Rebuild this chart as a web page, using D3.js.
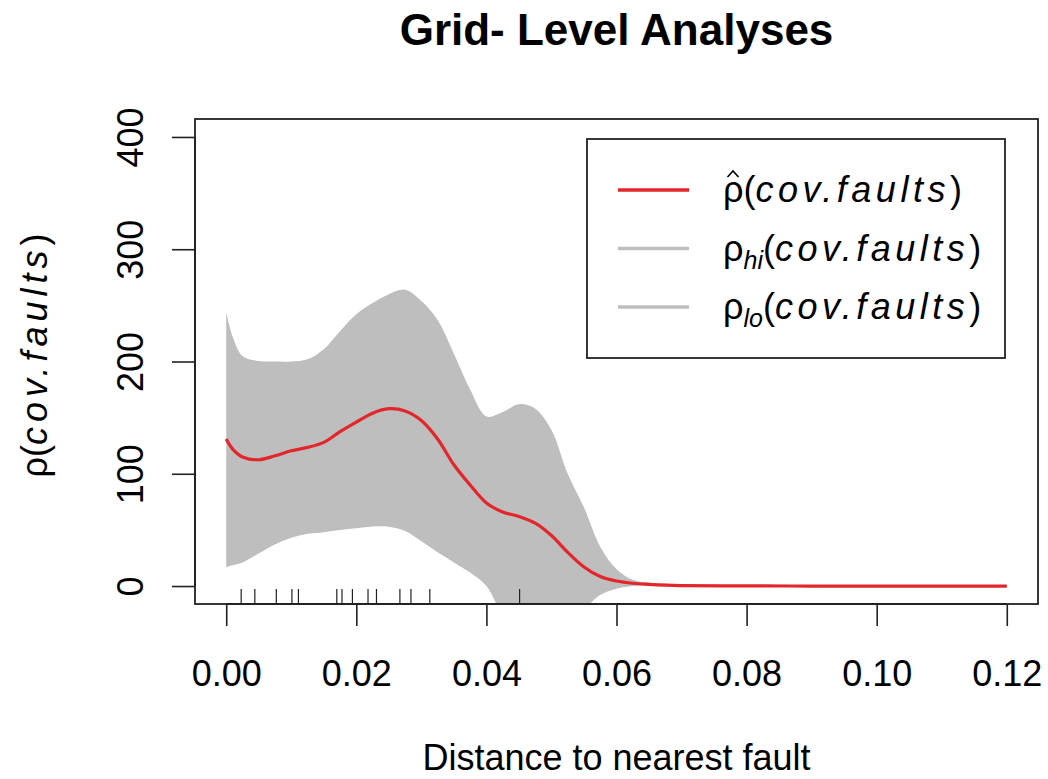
<!DOCTYPE html>
<html>
<head>
<meta charset="utf-8">
<script src="https://cdn.jsdelivr.net/npm/d3@7"></script>
<style>
  html, body { margin: 0; padding: 0; background: #fff; }
  svg { display: block; }
  text { font-family: "Liberation Sans", Arial, Helvetica, sans-serif; fill: #000; }
</style>
</head>
<body>
<svg id="chart" width="1048" height="779"></svg>
<script>
// ---- data ----
const xGrid  = [0, 0.001, 0.0025, 0.005, 0.0075, 0.010, 0.0125, 0.015, 0.0175, 0.020, 0.0225, 0.025, 0.0275,
                0.030, 0.0325, 0.035, 0.0375, 0.040, 0.0425, 0.045, 0.0475, 0.050, 0.0525, 0.055, 0.0575,
                0.060, 0.0625, 0.065, 0.0675, 0.070, 0.080, 0.090, 0.100, 0.110, 0.120];
const rhoHat = [131, 122, 115, 112.5, 116, 120.5, 123.5, 128, 137.5, 146, 154, 158, 156,
                147.5, 131, 108, 90, 74, 66, 62, 56, 45, 30, 17, 8.5,
                4.5, 2.5, 1.5, 0.8, 0.4, 0.1, 0, 0, 0, 0];
const rhoHi  = [244, 222, 205, 200.5, 200, 200, 202, 211, 227, 242, 252, 260, 264,
                254, 237, 207, 175, 151, 155, 162, 158, 139, 100, 70, 35,
                15, 5.5, 3, 2, 1.2, 0.3, 0.1, 0.1, 0.1, 0.1];
const rhoLo  = [16.7, 18.5, 21, 29, 37, 43, 46.5, 48, 50, 51.5, 53, 52.8, 49,
                40, 30, 21, 12, 0, -25, -35, -35, -30, -25, -20, -8,
                -2.5, 0, 0.4, 0.3, 0.2, 0, 0, 0, 0, 0];
const rugX   = [0.0023, 0.0044, 0.0077, 0.0101, 0.0111, 0.0170, 0.0178, 0.0194, 0.0218,
                0.0231, 0.0267, 0.0284, 0.0313, 0.0451];
const xTicks = [0, 0.02, 0.04, 0.06, 0.08, 0.10, 0.12];
const yTicks = [0, 100, 200, 300, 400];
const titleText = "Grid- Level Analyses";
const xLabel = "Distance to nearest fault";

// ---- layout ----
const box = { left: 195, right: 1038, top: 119, bottom: 604 };
const svg = d3.select("#chart");

const x = d3.scaleLinear()
  .domain([0 - 0.12 * 0.04, 0.12 + 0.12 * 0.04])
  .range([box.left, box.right]);
const y = d3.scaleLinear()
  .domain([0 - 400 * 0.04, 400 + 400 * 0.04])
  .range([box.bottom, box.top]);

const data = xGrid.map((d, i) => ({ x: d, hat: rhoHat[i], hi: rhoHi[i], lo: rhoLo[i] }));
const curve = d3.curveCatmullRom.alpha(0.5);

svg.append("defs").append("clipPath").attr("id", "plotclip")
  .append("rect")
  .attr("x", box.left).attr("y", box.top)
  .attr("width", box.right - box.left).attr("height", box.bottom - box.top);

const plot = svg.append("g").attr("clip-path", "url(#plotclip)");

// band
plot.append("path")
  .datum(data)
  .attr("fill", "#bebebe")
  .attr("d", d3.area().x(d => x(d.x)).y0(d => y(d.lo)).y1(d => y(d.hi)).curve(curve));

// rug
plot.selectAll("line.rug").data(rugX).enter().append("line")
  .attr("class", "rug")
  .attr("x1", d => x(d)).attr("x2", d => x(d))
  .attr("y1", box.bottom - 15).attr("y2", box.bottom)
  .attr("stroke", "#222").attr("stroke-width", 1.2);

// estimate line
plot.append("path")
  .datum(data)
  .attr("fill", "none")
  .attr("stroke", "#e3262b")
  .attr("stroke-width", 3.2)
  .attr("stroke-linejoin", "round")
  .attr("d", d3.line().x(d => x(d.x)).y(d => y(d.hat)).curve(curve));

// box
svg.append("rect")
  .attr("x", box.left).attr("y", box.top)
  .attr("width", box.right - box.left).attr("height", box.bottom - box.top)
  .attr("fill", "none").attr("stroke", "#222").attr("stroke-width", 1.8);

// x axis
const xAxis = d3.axisBottom(x).tickValues(xTicks).tickFormat(d3.format(".2f")).tickSize(22).tickSizeOuter(0).tickPadding(8);
const gx = svg.append("g").attr("transform", `translate(0,${box.bottom})`).call(xAxis);
gx.select(".domain").remove();
gx.append("line").attr("x1", x(xTicks[0])).attr("x2", x(xTicks[xTicks.length - 1]))
  .attr("stroke", "#222").attr("stroke-width", 1.8);
gx.selectAll(".tick line").attr("stroke", "#222").attr("stroke-width", 1.6);
gx.selectAll(".tick text").attr("font-size", 36).attr("font-family", "Liberation Sans, Arial, sans-serif")
  .attr("fill", "#000").attr("dy", null).attr("y", 82);

// y axis
const yAxis = d3.axisLeft(y).tickValues(yTicks).tickFormat(d3.format("d")).tickSize(23).tickSizeOuter(0);
const gy = svg.append("g").attr("transform", `translate(${box.left},0)`).call(yAxis);
gy.select(".domain").remove();
gy.append("line").attr("y1", y(yTicks[0])).attr("y2", y(yTicks[yTicks.length - 1]))
  .attr("stroke", "#222").attr("stroke-width", 1.8);
gy.selectAll(".tick line").attr("stroke", "#222").attr("stroke-width", 1.6);
gy.selectAll(".tick text")
  .attr("font-size", 36).attr("font-family", "Liberation Sans, Arial, sans-serif").attr("fill", "#000")
  .attr("x", null).attr("dy", null).attr("text-anchor", "middle")
  .attr("transform", "translate(-52,0) rotate(-90)");

// title
svg.append("text")
  .attr("x", (box.left + box.right) / 2).attr("y", 45)
  .attr("text-anchor", "middle").attr("font-size", 44).attr("font-weight", "bold")
  .text(titleText);

// x label
svg.append("text")
  .attr("x", (box.left + box.right) / 2).attr("y", 770)
  .attr("text-anchor", "middle").attr("font-size", 36)
  .text(xLabel);

// y label
const yl = svg.append("text")
  .attr("transform", `translate(47,${(box.top + box.bottom) / 2 - 6}) rotate(-90)`)
  .attr("text-anchor", "middle").attr("font-size", 36);
yl.append("tspan").text("ρ(");
yl.append("tspan").attr("font-style", "italic").attr("letter-spacing", 5).text("cov.faults");
yl.append("tspan").text(")");

// legend
const leg = svg.append("g");
leg.append("rect").attr("x", 587).attr("y", 139).attr("width", 418).attr("height", 219)
  .attr("fill", "#fff").attr("stroke", "#222").attr("stroke-width", 1.8);
const legendItems = [
  { color: "#e3262b", main: "ρ", hat: true, sub: "" },
  { color: "#bebebe", main: "ρ", hat: false, sub: "hi" },
  { color: "#bebebe", main: "ρ", hat: false, sub: "lo" }
];
legendItems.forEach((it, i) => {
  const cy = 190 + i * 58.5;
  leg.append("line").attr("x1", 618).attr("x2", 689).attr("y1", cy).attr("y2", cy)
    .attr("stroke", it.color).attr("stroke-width", 3.5);
  const t = leg.append("text").attr("x", 723).attr("y", cy + 12).attr("font-size", 36);
  t.append("tspan").text(it.main);
  if (it.hat) {
    leg.append("path")
      .attr("d", `M${727.5},${cy - 13} L${733},${cy - 19} L${738.5},${cy - 13}`)
      .attr("fill", "none").attr("stroke", "#000").attr("stroke-width", 1.6);
  }
  if (it.sub) {
    t.append("tspan").attr("font-style", "italic").attr("font-size", 25).attr("dy", 8).text(it.sub);
    t.append("tspan").attr("dy", -8).text("(");
  } else {
    t.append("tspan").text("(");
  }
  t.append("tspan").attr("font-style", "italic").attr("letter-spacing", 4.5).text("cov.faults");
  t.append("tspan").text(")");
});
</script>
</body>
</html>
